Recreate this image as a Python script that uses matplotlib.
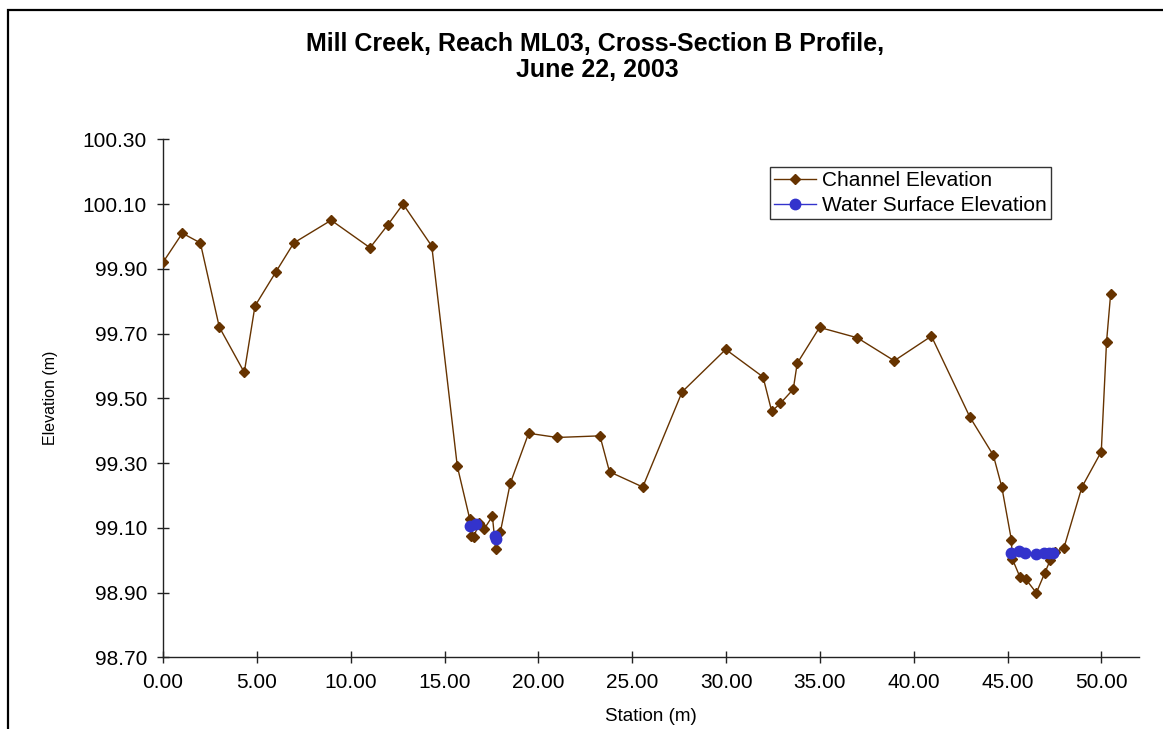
import numpy as np
import matplotlib.pyplot as plt
from matplotlib.patches import Rectangle
from matplotlib.ticker import MultipleLocator, FormatStrFormatter

plt.rcParams['font.family'] = ['Liberation Sans', 'DejaVu Sans']

# surveyed channel bed (station m, elevation m)
channel_station = [0.00, 1.03, 1.99, 3.00, 4.33, 4.90, 6.01, 6.97, 8.96, 11.03,
                   11.97, 12.79, 14.32, 15.68, 16.34, 16.41, 16.56, 16.84, 17.10, 17.55,
                   17.72, 17.97, 18.50, 19.48, 21.00, 23.28, 23.79, 25.56, 27.66, 29.98,
                   31.97, 32.43, 32.89, 33.58, 33.79, 34.98, 36.99, 38.96, 40.94, 42.99,
                   44.24, 44.69, 45.20, 45.25, 45.65, 45.96, 46.53, 46.97, 47.26, 47.55,
                   48.00, 48.96, 49.99, 50.27, 50.49]
channel_elev = [99.920, 100.010, 99.980, 99.720, 99.580, 99.785, 99.890, 99.980, 100.050, 99.965,
                100.035, 100.100, 99.970, 99.290, 99.128, 99.076, 99.072, 99.115, 99.095, 99.136,
                99.036, 99.086, 99.237, 99.392, 99.379, 99.384, 99.273, 99.226, 99.520, 99.651,
                99.566, 99.460, 99.484, 99.528, 99.608, 99.719, 99.687, 99.616, 99.692, 99.442,
                99.324, 99.226, 99.063, 99.004, 98.949, 98.942, 98.899, 98.959, 98.999, 99.025,
                99.038, 99.226, 99.335, 99.674, 99.823]

# water surface shots, NaN separates the wetted sections
water_station = [16.35, 16.65, np.nan, 17.67, 17.76, np.nan,
                 45.18, 45.62, 45.95, 46.50, 46.92, 47.22, 47.42]
water_elev = [99.107, 99.113, np.nan, 99.075, 99.064, np.nan,
              99.021, 99.027, 99.021, 99.018, 99.021, 99.022, 99.023]

W, H = 1163, 729
fig = plt.figure(figsize=(W / 100, H / 100), dpi=100)
ax = fig.add_axes([163 / W, 1 - 657.3 / H, (1139 - 163) / W, (657.3 - 139.3) / H])

brown = '#663300'
blue = '#3333cc'
ax.plot(channel_station, channel_elev, color=brown, lw=1.0, marker='D', ms=4.6,
        mec=brown, mfc=brown, label='Channel Elevation', zorder=3)
ax.plot(water_station, water_elev, color=blue, lw=1.0, marker='o', ms=7.5,
        mec=blue, mfc=blue, label='Water Surface Elevation', zorder=4)

ax.set_xlim(0, 52)
ax.set_ylim(98.70, 100.30)
ax.xaxis.set_major_locator(MultipleLocator(5))
ax.xaxis.set_major_formatter(FormatStrFormatter('%.2f'))
ax.yaxis.set_major_formatter(FormatStrFormatter('%.2f'))
ax.set_yticks(np.arange(98.70, 100.31, 0.2))

for s in ['top', 'right']:
    ax.spines[s].set_visible(False)
for s in ['left', 'bottom']:
    ax.spines[s].set_color('#222222')
    ax.spines[s].set_linewidth(1.0)
ax.tick_params(axis='both', direction='inout', length=9, width=1.0,
               color='#222222', labelsize=15, pad=7)

ax.set_xlabel('Station (m)', fontsize=13.5, labelpad=11)
ax.set_ylabel('Elevation (m)', fontsize=11.5, labelpad=18)

fig.text(595 / W, 1 - 44 / H, 'Mill Creek, Reach ML03, Cross-Section B Profile,',
         ha='center', va='center', fontsize=18, fontweight='bold')
fig.text(597 / W, 1 - 70 / H, 'June 22, 2003',
         ha='center', va='center', fontsize=18, fontweight='bold')

leg = ax.legend(loc='upper left', bbox_to_anchor=(770 / W, 1 - 167 / H),
                bbox_transform=fig.transFigure, fontsize=15, fancybox=False,
                frameon=True, edgecolor='black', borderaxespad=0,
                handlelength=2.0, handletextpad=0.3, labelspacing=0.28,
                borderpad=0.2)
leg.get_frame().set_linewidth(1.0)

# chart-area border (cropped on the right and bottom)
fig.add_artist(Rectangle((8 / W, -0.2), 2, 1 - 10 / H + 0.2, transform=fig.transFigure,
                         fill=False, edgecolor='black', lw=1.6))

fig.savefig('out.png', dpi=100)
